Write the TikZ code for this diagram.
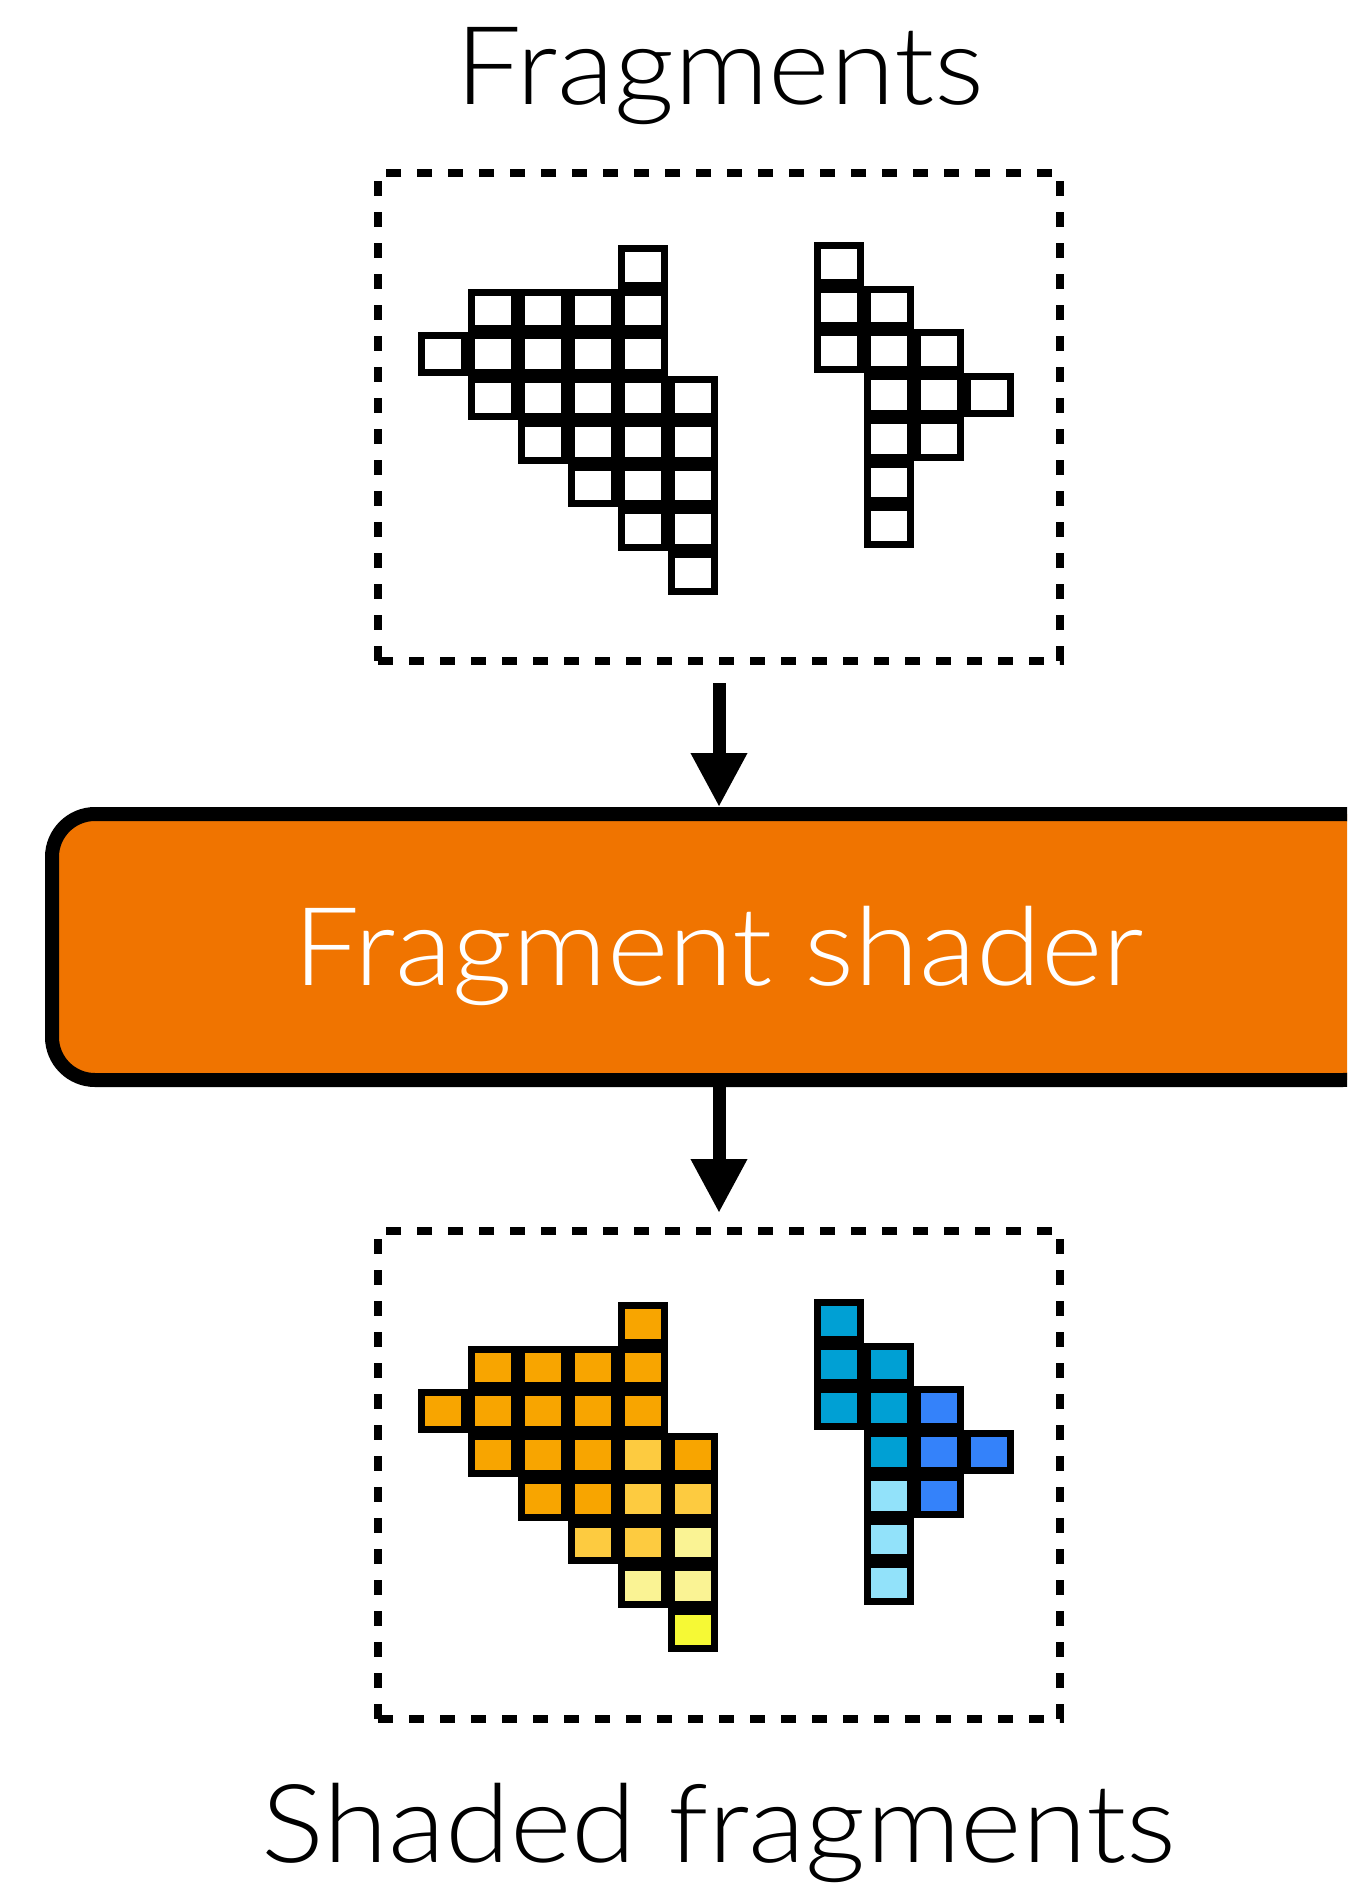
\documentclass[tikz,border=0pt]{standalone}
\usepackage{fontspec}
\newfontfamily\thinfont{Lato Light}[FakeStretch=1.08]
\usetikzlibrary{arrows.meta}

\definecolor{shaderorange}{HTML}{F07400}
\definecolor{fragorange}{HTML}{F8A500}
\definecolor{fraggold}{HTML}{FDCB40}
\definecolor{fragpale}{HTML}{FAF394}
\definecolor{fragyellow}{HTML}{F6F935}
\definecolor{fragteal}{HTML}{00A0D4}
\definecolor{fragblue}{HTML}{3482FA}
\definecolor{fragsky}{HTML}{92E2FA}

\tikzset{
  bigtext/.style={font=\thinfont\fontsize{109}{120}\selectfont, inner sep=0, outer sep=0},
  fragbox/.style={draw=black, line width=7.5pt, dash pattern=on 15pt off 16pt,
    minimum width=682pt, minimum height=488pt, inner sep=0, outer sep=0},
  shaderbox/.style={draw=black, fill=shaderorange, line width=14pt, rounded corners=43pt,
    minimum width=1334pt, minimum height=266pt, inner sep=0},
  cell/.style={rectangle, draw=black, line width=7pt, minimum width=43pt,
    minimum height=36.7pt, inner sep=0, outer sep=0},
  flow/.style={line width=13pt, -{Triangle[width=53pt,length=54pt]}},
}

% cell lists: column/row/colour
\def\leftcells{4/0/fragorange,
  1/1/fragorange,2/1/fragorange,3/1/fragorange,4/1/fragorange,
  0/2/fragorange,1/2/fragorange,2/2/fragorange,3/2/fragorange,4/2/fragorange,
  1/3/fragorange,2/3/fragorange,3/3/fragorange,4/3/fraggold,5/3/fragorange,
  2/4/fragorange,3/4/fragorange,4/4/fraggold,5/4/fraggold,
  3/5/fraggold,4/5/fraggold,5/5/fragpale,
  4/6/fragpale,5/6/fragpale,
  5/7/fragyellow}
\def\rightcells{0/0/fragteal,
  0/1/fragteal,1/1/fragteal,
  0/2/fragteal,1/2/fragteal,2/2/fragblue,
  1/3/fragteal,2/3/fragblue,3/3/fragblue,
  1/4/fragsky,2/4/fragblue,
  1/5/fragsky,
  1/6/fragsky}

\begin{document}
\begin{tikzpicture}[x=1pt, y=-1pt]
\useasboundingbox (0,0) rectangle (1347,1887);
\clip (0,0) rectangle (1347,1887);

% titles
\node[bigtext, anchor=base] (title) at (720,104) {Fragments};
\node[bigtext, anchor=base] (result) at (719,1862) {Shaded fragments};

% input and output frames
\node[fragbox] (fragsin) at (719,417) {};
\node[fragbox] (fragsout) at (719,1475) {};

% shader stage
\node[shaderbox] (shader) at (719,947) {};
\node[bigtext, anchor=base, text=white] (shadertext) at (719,985) {Fragment shader};

% connectors
\draw[flow, shorten <=22pt] (fragsin.south) -- (shader.north);
\draw[flow, shorten >=18pt] (shader.south) -- (fragsout.north);

% unshaded fragments
\foreach \c/\r/\col in \leftcells {
  \node[cell, fill=white] (inL-\c-\r) at ({418+(\c+0.5)*50}, {245+(\r+0.5)*43.7}) {};
}
\foreach \c/\r/\col in \rightcells {
  \node[cell, fill=white] (inR-\c-\r) at ({814+(\c+0.5)*50}, {242+(\r+0.5)*43.7}) {};
}

% shaded fragments
\foreach \c/\r/\col in \leftcells {
  \node[cell, fill=\col] (outL-\c-\r) at ({418+(\c+0.5)*50}, {1302+(\r+0.5)*43.7}) {};
}
\foreach \c/\r/\col in \rightcells {
  \node[cell, fill=\col] (outR-\c-\r) at ({814+(\c+0.5)*50}, {1299+(\r+0.5)*43.7}) {};
}
\end{tikzpicture}
\end{document}
